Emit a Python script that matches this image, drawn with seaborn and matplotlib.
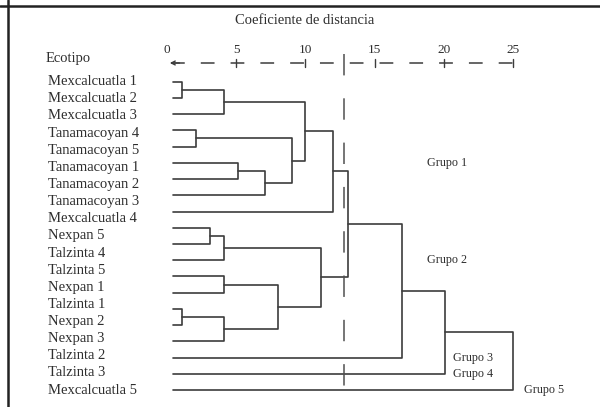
import matplotlib
matplotlib.use('Agg')
import matplotlib.pyplot as plt
import pandas as pd
import seaborn as sns

# Ecotype labels (19 labels, drawn top to bottom)
ecotipos = ['Mexcalcuatla 1', 'Mexcalcuatla 2', 'Mexcalcuatla 3',
            'Tanamacoyan 4', 'Tanamacoyan 5', 'Tanamacoyan 1',
            'Tanamacoyan 2', 'Tanamacoyan 3', 'Mexcalcuatla 4',
            'Nexpan 5', 'Talzinta 4', 'Talzinta 5', 'Nexpan 1',
            'Talzinta 1', 'Nexpan 2', 'Nexpan 3', 'Talzinta 2',
            'Talzinta 3', 'Mexcalcuatla 5']

# Dendrogram merges (scipy-like: ids < n_leaves are leaves, later ids are merges)
n_leaves = 20
merge_left = [0, 20, 3, 5, 23, 22, 21, 26, 9, 28, 12, 14, 31, 30, 29, 27, 35, 36, 37]
merge_right = [1, 2, 4, 6, 7, 24, 25, 8, 10, 11, 13, 15, 16, 32, 33, 34, 17, 18, 19]
merge_height = [1.1, 4.1, 2.1, 5.1, 7.1, 9.0, 10.0, 12.0, 3.1, 4.1,
                4.1, 1.1, 4.1, 8.0, 11.1, 13.1, 17.0, 20.1, 25.0]

scale_ticks = [0, 5, 10, 15, 20, 25]
cut_distance = 12.8
grupos = ['Grupo 1', 'Grupo 2', 'Grupo 3', 'Grupo 4', 'Grupo 5']

# layout (data units: x = distance, y = leaf row)
grupo_pos = [(18.8, 5), (18.8, 11), (20.7, 17), (20.7, 18), (25.8, 19)]
leaf_start = 0.4   # leaf lines start a little right of the 0 mark
label_x = -8.6
axis_row = -1.15
line_col = '#3c3c3c'
text_col = '#2e2e2e'

sns.set_theme(style='white')
plt.rcParams['font.family'] = ['Liberation Serif', 'DejaVu Serif']

fig = plt.figure(figsize=(6, 4.07), dpi=100)
ax = fig.add_axes([0, 0, 1, 1])

# build the U-shaped segments of the tree
node_x = {i: leaf_start for i in range(n_leaves)}
node_y = {i: float(i) for i in range(n_leaves)}
rows = []
for k, (a, b, h) in enumerate(zip(merge_left, merge_right, merge_height)):
    nid = n_leaves + k
    xs = [node_x[a], h, h, node_x[b]]
    ys = [node_y[a], node_y[a], node_y[b], node_y[b]]
    for x, y in zip(xs, ys):
        rows.append({'seg': nid, 'x': x, 'y': y})
    node_x[nid] = h
    node_y[nid] = (node_y[a] + node_y[b]) / 2
seg_df = pd.DataFrame(rows)

sns.lineplot(data=seg_df, x='x', y='y', units='seg', estimator=None, sort=False,
             color=line_col, linewidth=1.2, ax=ax, legend=False)

# leaf labels, spread evenly over the leaf rows
step = (n_leaves - 1) / (len(ecotipos) - 1)
for i, name in enumerate(ecotipos):
    ax.text(label_x, i * step, name, ha='left', va='center',
            fontsize=10.5, color=text_col)

# distance scale on top (dashed, SPSS style)
ax.plot([0.3, scale_ticks[-1]], [axis_row, axis_row], color=line_col,
        lw=1.1, ls=(0, (9, 10.5)))
ax.annotate('', xy=(0, axis_row), xytext=(1.1, axis_row),
            arrowprops=dict(arrowstyle='->', lw=1.0, color=line_col,
                            mutation_scale=7))
for t in scale_ticks:
    if t > 0:
        ax.plot([t, t], [axis_row - 0.25, axis_row + 0.25], color=line_col, lw=1.0)
    ax.text(t, axis_row - 0.8, str(t), ha='center', va='center',
            fontsize=9.5, color=text_col)

ax.text(9.97, -3.74, 'Coeficiente de distancia', ha='center', va='center',
        fontsize=10.5, color=text_col)
ax.text(-8.74, -1.4, 'Ecotipo', ha='left', va='center', fontsize=10.5,
        color=text_col)

# cut line
ax.plot([cut_distance, cut_distance], [-1.7, n_leaves - 0.18], color='#505050',
        lw=1.1, ls=(0, (14, 15)))

for g, (gx, gy) in zip(grupos, grupo_pos):
    ax.text(gx, gy, g, ha='left', va='center', fontsize=8.7, color=text_col)

ax.set_xlim(-12.07, 31.29)
ax.set_ylim(20.04, -5.03)
ax.axis('off')

# page frame lines
fig.add_artist(plt.Line2D([8 / 600, 8 / 600], [0, 1], color='#222222', lw=1.8))
fig.add_artist(plt.Line2D([0, 1], [1 - 6 / 407, 1 - 6 / 407], color='#222222', lw=1.8))

fig.savefig('out.png', dpi=100)
